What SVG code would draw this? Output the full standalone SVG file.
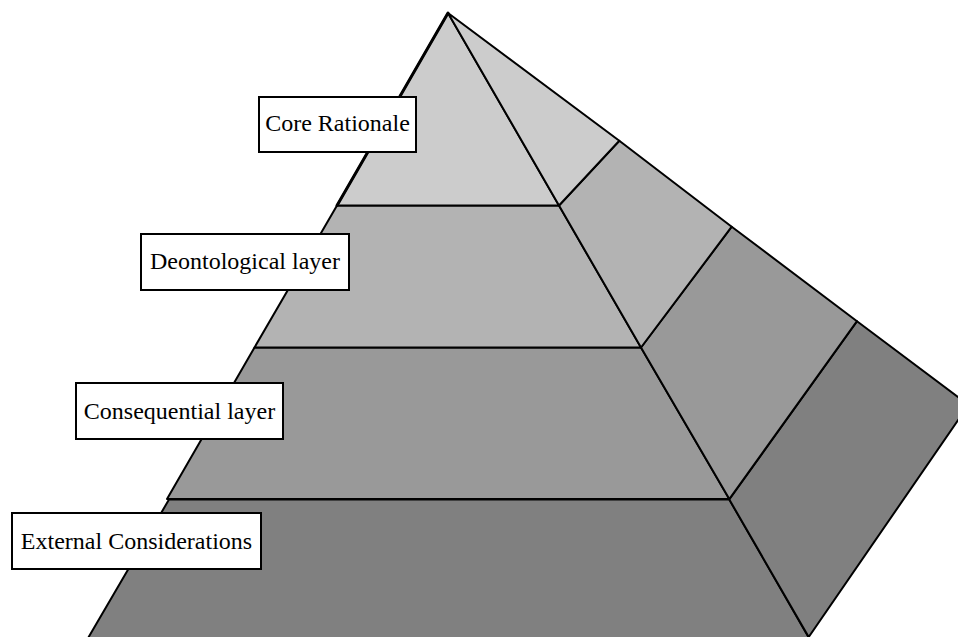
<svg xmlns="http://www.w3.org/2000/svg" width="958" height="637" viewBox="0 0 958 637">
  <style>
    .face { stroke: #000; stroke-width: 2; stroke-linejoin: round; }
    .c1 { fill: #cccccc; }
    .c2 { fill: #b3b3b3; }
    .c3 { fill: #999999; }
    .c4 { fill: #808080; }
    .box { fill: #ffffff; stroke: #000; stroke-width: 2; }
    .lbl { font-family: "Liberation Serif", "Times New Roman", serif; font-size: 24px; fill: #000; text-anchor: middle; }
  </style>
  <rect x="0" y="0" width="958" height="637" fill="#ffffff"/>

  <g id="layer-external">
    <polygon class="face c4" points="169,499.5 729.3,499.5 813,645 84,645"/>
    <polygon class="face c4" points="857,321.2 968.5,405 808.7,637 729.3,499.5"/>
  </g>
  <g id="layer-consequential">
    <polygon class="face c3" points="254.5,347.5 641,347.5 729.3,499 167,499"/>
    <polygon class="face c3" points="731.7,226.7 857,321.2 729.3,499 641,347.5"/>
  </g>
  <g id="layer-deontological">
    <polygon class="face c2" points="337,205.5 559,205.5 641,347.5 254.5,347.5"/>
    <polygon class="face c2" points="619.3,140.7 731.7,226.7 641,347.5 559,205.5"/>
  </g>
  <g id="layer-core">
    <polygon class="face c1" points="448,13 559,205.5 337,205.5"/>
    <polygon class="face c1" points="448,13 619.3,140.7 559,205.5"/>
    <line x1="448" y1="13" x2="337" y2="205.5" stroke="#000" stroke-width="3" stroke-linecap="round"/>
  </g>

  <g id="label-core">
    <rect class="box" x="259" y="97" width="157" height="55"/>
    <text class="lbl" x="337.5" y="131">Core Rationale</text>
  </g>
  <g id="label-deontological">
    <rect class="box" x="141" y="234" width="208" height="56"/>
    <text class="lbl" x="245" y="269">Deontological layer</text>
  </g>
  <g id="label-consequential">
    <rect class="box" x="76" y="383" width="207" height="56"/>
    <text class="lbl" x="179.5" y="419">Consequential layer</text>
  </g>
  <g id="label-external">
    <rect class="box" x="12" y="513" width="249" height="56"/>
    <text class="lbl" x="136.5" y="549">External Considerations</text>
  </g>
</svg>
